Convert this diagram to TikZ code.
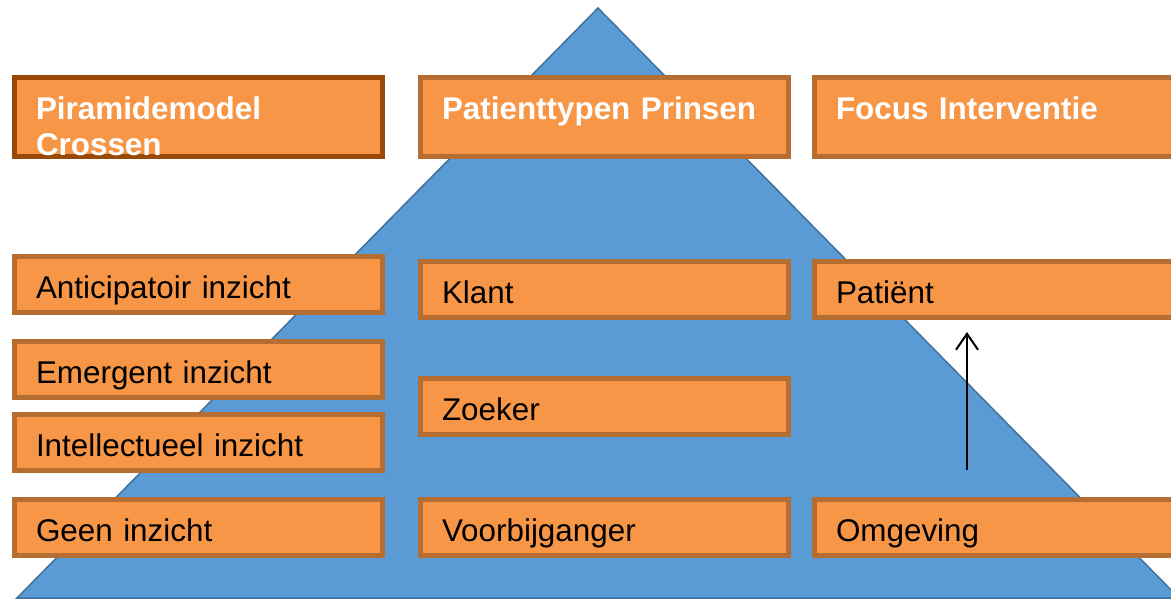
\documentclass[tikz,border=0pt]{standalone}
\usepackage{fontspec}
\setmainfont{Liberation Sans}
\usetikzlibrary{arrows.meta}

\definecolor{boxfill}{HTML}{F79646}
\definecolor{boxline}{HTML}{B66D32}
\definecolor{darkline}{HTML}{984807}
\definecolor{pyrfill}{HTML}{5B9BD5}
\definecolor{pyrline}{HTML}{41719C}

\begin{document}
\begin{tikzpicture}[x=1pt, y=-1pt,
    box/.style={rectangle, draw=boxline, fill=boxfill, line width=5pt, anchor=north west,
        inner xsep=21.5pt, inner ysep=0pt, text width=325pt, align=left,
        text height=41.5pt, text depth=14.5pt, font=\fontsize{31.4}{36}\selectfont},
    header/.style={box, text=white, text depth=37.5pt, font=\fontsize{31.4}{36}\selectfont\bfseries}]
    \useasboundingbox (0,0) rectangle (1171,598);
    \clip (0,0) rectangle (1171,598);

    % Pyramid
    \draw[fill=pyrfill, draw=pyrline, line width=1.5pt] (598,8) -- (17,598) -- (1179,598) -- cycle;

    % Headers
    \node (Crossen) [header, draw=darkline] at (12,75) {Piramidemodel\\Crossen};
    \node (Prinsen) [header] at (418,75) {Patienttypen Prinsen};
    \node (Focus) [header] at (812,75) {Focus Interventie};

    % Nodes
    \node (Anticipatoir) [box] at (12,254) {Anticipatoir inzicht};
    \node (Emergent) [box] at (12,339) {Emergent inzicht};
    \node (Intellectueel) [box] at (12,412) {Intellectueel inzicht};
    \node (Geen) [box] at (12,497) {Geen inzicht};
    \node (Klant) [box] at (418,259) {Klant};
    \node (Zoeker) [box] at (418,376) {Zoeker};
    \node (Voorbijganger) [box] at (418,497) {Voorbijganger};
    \node (Patient) [box] at (812,259) {Patiënt};
    \node (Omgeving) [box] at (812,497) {Omgeving};

    % Arrows
    \coordinate (ArrowTail) at (967,470);
    \coordinate (ArrowHead) at (967,332);
    \draw[-{Straight Barb[length=16pt, width=22pt]}, line width=2pt] (ArrowTail) -- (ArrowHead);
\end{tikzpicture}
\end{document}
